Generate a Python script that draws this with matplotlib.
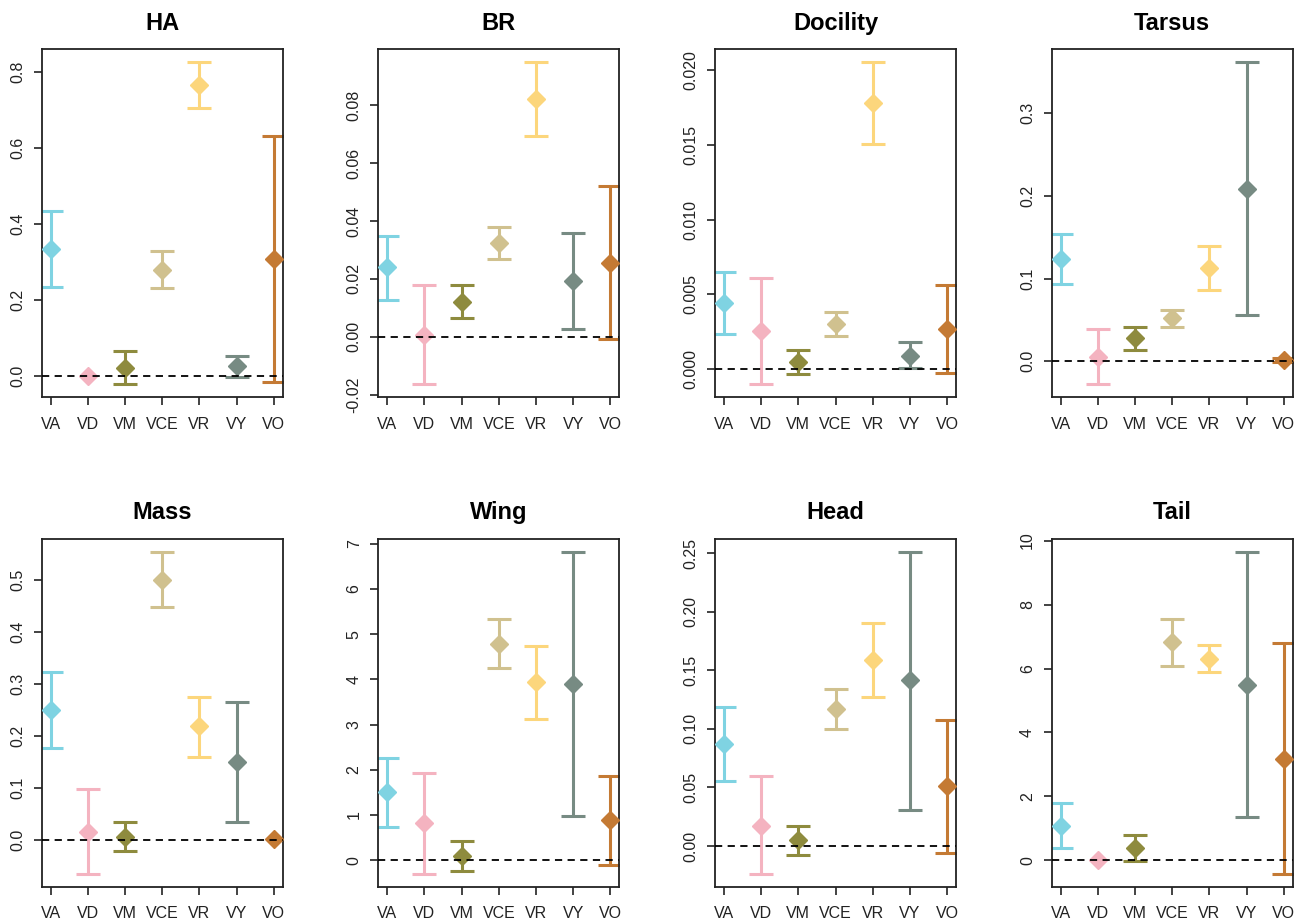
import numpy as np
import matplotlib
matplotlib.use("Agg")
import matplotlib.pyplot as plt

plt.rcParams['font.family'] = ['Liberation Sans', 'DejaVu Sans']

components = ["VA", "VD", "VM", "VCE", "VR", "VY", "VO"]
colors = ["#7fd3e2", "#f4b3c0", "#8e8b3e", "#d0c18f", "#fcd67c", "#778b83", "#c47a34"]

traits = ["HA", "BR", "Docility", "Tarsus", "Mass", "Wing", "Head", "Tail"]

# point estimates, lower and upper bounds (nan = no interval drawn)
ha_est = [0.335, 0.000, 0.020, 0.279, 0.765, 0.026, 0.308]
ha_lo = [0.235, np.nan, -0.022, 0.233, 0.707, -0.003, -0.015]
ha_hi = [0.434, np.nan, 0.066, 0.329, 0.826, 0.054, 0.632]

br_est = [0.0239, 0.0006, 0.0120, 0.0323, 0.0820, 0.0192, 0.0256]
br_lo = [0.0128, -0.0165, 0.0065, 0.0269, 0.0693, 0.0027, -0.0008]
br_hi = [0.0349, 0.0179, 0.0179, 0.0379, 0.0948, 0.0358, 0.0519]

doc_est = [0.00439, 0.00251, 0.00045, 0.00298, 0.0178, 0.00085, 0.00265]
doc_lo = [0.00235, -0.00105, -0.00038, 0.00217, 0.01509, 0.00004, -0.00029]
doc_hi = [0.00646, 0.00605, 0.00126, 0.00381, 0.02054, 0.00177, 0.00561]

tar_est = [0.1237, 0.0057, 0.0287, 0.0526, 0.1132, 0.2082, 0.0016]
tar_lo = [0.0938, -0.0279, 0.0137, 0.0421, 0.0865, 0.0558, -0.0012]
tar_hi = [0.1537, 0.0388, 0.0421, 0.0615, 0.1399, 0.3615, 0.0044]

mass_est = [0.250, 0.0155, 0.0052, 0.500, 0.219, 0.150, 0.0006]
mass_lo = [0.1765, -0.0657, -0.0226, 0.4485, 0.1598, 0.0348, np.nan]
mass_hi = [0.3235, 0.0986, 0.0348, 0.5548, 0.2758, 0.266, np.nan]

wing_est = [1.50, 0.83, 0.09, 4.79, 3.95, 3.89, 0.88]
wing_lo = [0.74, -0.30, -0.24, 4.24, 3.13, 0.99, -0.10]
wing_hi = [2.27, 1.94, 0.42, 5.33, 4.73, 6.82, 1.86]

head_est = [0.0873, 0.0174, 0.0049, 0.1170, 0.1587, 0.1413, 0.0511]
head_lo = [0.0559, -0.0237, -0.0080, 0.1002, 0.1273, 0.0308, -0.0057]
head_hi = [0.1187, 0.0596, 0.0174, 0.1338, 0.1904, 0.2511, 0.1079]

tail_est = [1.09, 0.02, 0.40, 6.82, 6.31, 5.49, 3.16]
tail_lo = [0.40, np.nan, -0.03, 6.08, 5.89, 1.36, -0.42]
tail_hi = [1.78, np.nan, 0.78, 7.54, 6.74, 9.65, 6.79]

panels = [
    (ha_est, ha_lo, ha_hi, [0.0, 0.2, 0.4, 0.6, 0.8], ["0.0", "0.2", "0.4", "0.6", "0.8"]),
    (br_est, br_lo, br_hi, [-0.02, 0.0, 0.02, 0.04, 0.06, 0.08], ["-0.02", "0.00", "0.02", "0.04", "0.06", "0.08"]),
    (doc_est, doc_lo, doc_hi, [0.0, 0.005, 0.01, 0.015, 0.02], ["0.000", "0.005", "0.010", "0.015", "0.020"]),
    (tar_est, tar_lo, tar_hi, [0.0, 0.1, 0.2, 0.3], ["0.0", "0.1", "0.2", "0.3"]),
    (mass_est, mass_lo, mass_hi, [0.0, 0.1, 0.2, 0.3, 0.4, 0.5], ["0.0", "0.1", "0.2", "0.3", "0.4", "0.5"]),
    (wing_est, wing_lo, wing_hi, [0, 1, 2, 3, 4, 5, 6, 7], ["0", "1", "2", "3", "4", "5", "6", "7"]),
    (head_est, head_lo, head_hi, [0.0, 0.05, 0.1, 0.15, 0.2, 0.25], ["0.00", "0.05", "0.10", "0.15", "0.20", "0.25"]),
    (tail_est, tail_lo, tail_hi, [0, 2, 4, 6, 8, 10], ["0", "2", "4", "6", "8", "10"]),
]

fig = plt.figure(figsize=(13.01, 9.19), dpi=100)
lefts = [0.0321, 0.2908, 0.5496, 0.8084]
bottoms = [0.5677, 0.0351]
w, h = 0.1852, 0.3785

x = np.arange(1, 8)
for k, (est, lo, hi, yt, ytl) in enumerate(panels):
    ax = fig.add_axes([lefts[k % 4], bottoms[k // 4], w, h])
    est = np.array(est)
    lo = np.array(lo)
    hi = np.array(hi)
    for i in range(7):
        if not np.isnan(lo[i]):
            ax.errorbar(x[i], est[i], yerr=[[est[i] - lo[i]], [hi[i] - est[i]]],
                        color=colors[i], elinewidth=2.2, capsize=8.3, capthick=2.2,
                        fmt="none", zorder=2)
        ax.plot(x[i], est[i], marker="D", markersize=9, color=colors[i],
                linestyle="none", zorder=3)
    ax.axhline(0, color="black", linestyle=(0, (4, 3)), linewidth=1.3, zorder=4)
    allv = np.concatenate([est, lo[~np.isnan(lo)], hi[~np.isnan(hi)]])
    ymin, ymax = allv.min(), allv.max()
    pad = 0.04 * (ymax - ymin)
    ax.set_ylim(ymin - pad, ymax + pad)
    ax.set_xlim(0.76, 7.24)
    ax.set_xticks(x)
    ax.set_xticklabels(components)
    ax.set_yticks(yt)
    ax.set_yticklabels(ytl, rotation=90, va="center")
    ax.tick_params(direction="out", length=6, width=1.2, labelsize=11.5,
                   colors="#222222", pad=6)
    ax.tick_params(axis="x", pad=8)
    for s in ax.spines.values():
        s.set_linewidth(1.3)
        s.set_color("#222222")
    ax.set_title(traits[k], fontsize=17, fontweight="bold", pad=14)

fig.savefig("out.png", dpi=100)
